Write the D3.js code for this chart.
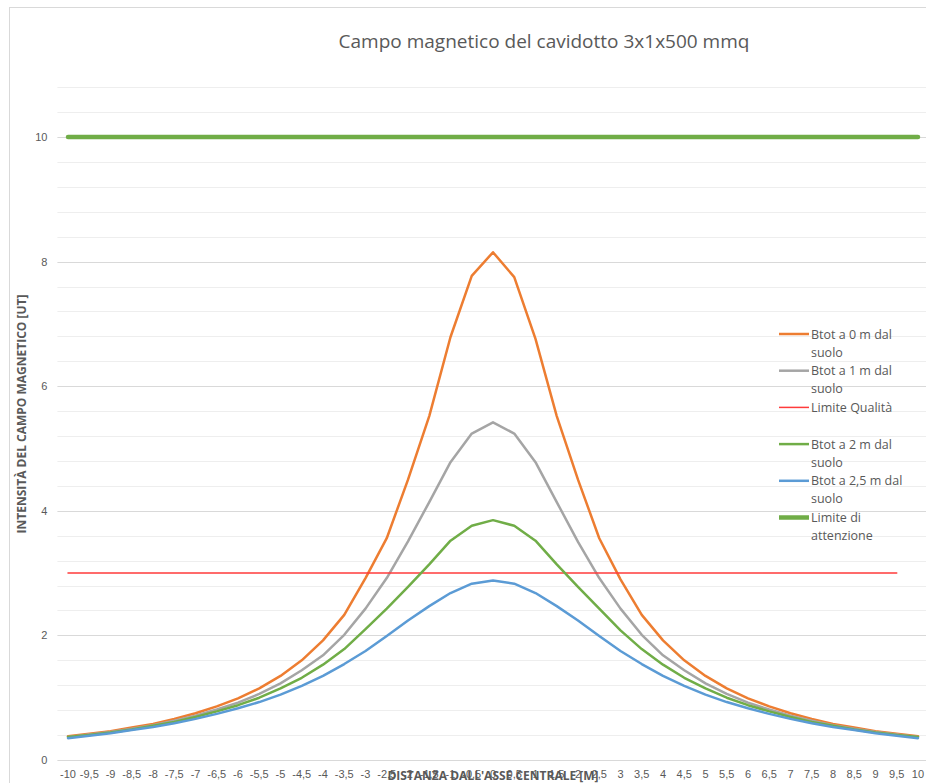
<!DOCTYPE html>
<html lang="it">
<head>
    <meta charset="UTF-8">
    <title>Campo magnetico del cavidotto</title>
    <style>
        body { margin: 0; background: #fff; overflow: hidden; }
        svg { display: block; font-family: "Liberation Sans Narrow", "Open Sans", sans-serif; }
        .tick-label { fill: #595959; font-size: 11px; }
        .axis-title { fill: #595959; font-size: 12px; font-weight: bold; }
        .legend-label { fill: #595959; font-size: 12.5px; }
    </style>
</head>
<body>
    <svg id="chart"></svg>
    <script src="https://d3js.org/d3.v7.min.js"></script>
    <script>
        const width = 926, height = 783;

        // categorie asse x (distanza in m)
        const categories = ["-10","-9,5","-9","-8,5","-8","-7,5","-7","-6,5","-6","-5,5","-5","-4,5","-4","-3,5","-3","-2,5","-2","-1,5","-1","-0,5","0",
            "0,5","1","1,5","2","2,5","3","3,5","4","4,5","5","5,5","6","6,5","7","7,5","8","8,5","9","9,5","10"];

        // valori [uT]
        const btot0 = [0.38,0.42,0.46,0.52,0.58,0.66,0.75,0.86,0.99,1.15,1.35,1.60,1.92,2.33,2.92,3.56,4.50,5.52,6.79,7.77,8.15,
            7.75,6.76,5.52,4.50,3.56,2.90,2.33,1.92,1.60,1.35,1.15,0.99,0.86,0.75,0.66,0.58,0.52,0.46,0.42,0.38];
        const btot1 = [0.37,0.41,0.45,0.50,0.56,0.63,0.71,0.81,0.92,1.06,1.23,1.44,1.68,2.01,2.43,2.92,3.51,4.14,4.78,5.24,5.42,
            5.24,4.78,4.14,3.50,2.92,2.43,2.01,1.68,1.44,1.23,1.06,0.92,0.81,0.71,0.63,0.56,0.50,0.45,0.41,0.37];
        const limiteQualita = [3,3,3,3,3,3,3,3,3,3,3,3,3,3,3,3,3,3,3,3,3,
            3,3,3,3,3,3,3,3,3,3,3,3,3,3,3,3,3,3,3];
        const btot2 = [0.37,0.40,0.44,0.49,0.55,0.61,0.69,0.78,0.88,1.00,1.15,1.32,1.53,1.78,2.10,2.43,2.78,3.14,3.52,3.76,3.85,
            3.76,3.52,3.14,2.78,2.43,2.08,1.78,1.53,1.32,1.15,1.00,0.88,0.78,0.69,0.61,0.55,0.49,0.44,0.40,0.37];
        const btot25 = [0.35,0.39,0.43,0.48,0.53,0.59,0.66,0.74,0.83,0.93,1.05,1.19,1.35,1.54,1.75,1.99,2.24,2.47,2.68,2.83,2.88,
            2.83,2.68,2.47,2.24,1.99,1.75,1.54,1.35,1.19,1.05,0.93,0.83,0.74,0.66,0.59,0.53,0.48,0.43,0.39,0.35];
        const limiteAttenzione = [10,10,10,10,10,10,10,10,10,10,10,10,10,10,10,10,10,10,10,10,10,
            10,10,10,10,10,10,10,10,10,10,10,10,10,10,10,10,10,10,10,10];

        const yTicks = [0, 2, 4, 6, 8, 10];

        const series = [
            { label: ["Btot a 0 m dal", "suolo"], values: btot0, color: "#ED7D31", w: 2.5 },
            { label: ["Btot a 1 m dal", "suolo"], values: btot1, color: "#A5A5A5", w: 2.5 },
            { label: ["Limite Qualità"], values: limiteQualita, color: "#FF3B3B", w: 1.5 },
            { label: ["Btot a 2 m dal", "suolo"], values: btot2, color: "#70AD47", w: 2.5 },
            { label: ["Btot a 2,5 m dal", "suolo"], values: btot25, color: "#5B9BD5", w: 2.5 },
            { label: ["Limite di", "attenzione"], values: limiteAttenzione, color: "#70AD47", w: 4.5 }
        ];

        const plot = { left: 57.4, right: 928.6, top: 74.7, bottom: 760 };

        const svg = d3.select("#chart").attr("width", width).attr("height", height);

        // bordo del grafico
        svg.append("rect")
            .attr("x", 9.5).attr("y", 7.5)
            .attr("width", 940).attr("height", 800)
            .attr("fill", "none").attr("stroke", "#d9d9d9");

        const x = d3.scaleBand().domain(categories).range([plot.left, plot.right]).padding(0);
        const xc = c => x(c) + x.bandwidth() / 2;
        const y = d3.scaleLinear().domain([0, 11]).range([plot.bottom, plot.top]);

        // griglia secondaria ogni 0,4
        const minor = d3.range(1, 28).map(i => +(i * 0.4).toFixed(1)).filter(v => v % 2 !== 0 && v <= 11);
        svg.append("g").selectAll("line").data(minor).join("line")
            .attr("x1", plot.left).attr("x2", plot.right)
            .attr("y1", d => Math.round(y(d)) + 0.5).attr("y2", d => Math.round(y(d)) + 0.5)
            .attr("stroke", "#eeeeee").attr("stroke-width", 1);

        // griglia principale + etichette asse y
        const yAxis = d3.axisLeft(y).tickValues(yTicks).tickSize(0).tickPadding(10);
        const gy = svg.append("g").attr("transform", `translate(${plot.left},0)`).call(yAxis);
        gy.select(".domain").remove();
        gy.selectAll(".tick text").attr("class", "tick-label").attr("font-size", null).attr("font-family", null);
        svg.append("g").selectAll("line").data(yTicks).join("line")
            .attr("x1", plot.left).attr("x2", plot.right)
            .attr("y1", d => Math.round(y(d)) + 0.5).attr("y2", d => Math.round(y(d)) + 0.5)
            .attr("stroke", "#d9d9d9").attr("stroke-width", 1);

        // etichette asse x
        const xAxis = d3.axisBottom(x).tickSize(0).tickPadding(10);
        const gx = svg.append("g").attr("transform", `translate(0,${plot.bottom})`).call(xAxis);
        gx.select(".domain").remove();
        gx.selectAll(".tick text").attr("class", "tick-label").attr("font-size", null).attr("font-family", null);

        // serie
        const line = d3.line()
            .defined(d => d != null)
            .x((d, i) => xc(categories[i]))
            .y(d => y(d));

        svg.append("g").selectAll("path").data(series).join("path")
            .attr("d", s => line(s.values))
            .attr("fill", "none")
            .attr("stroke", s => s.color)
            .attr("stroke-width", s => s.w)
            .attr("stroke-linejoin", "round")
            .attr("stroke-linecap", "round");

        // titoli
        svg.append("text")
            .attr("x", 544).attr("y", 48)
            .attr("text-anchor", "middle")
            .attr("fill", "#595959")
            .style("font-size", "19px")
            .text("Campo magnetico del cavidotto 3x1x500 mmq");

        svg.append("text")
            .attr("class", "axis-title")
            .attr("x", 493).attr("y", 780)
            .attr("text-anchor", "middle")
            .text("DISTANZA DALL'ASSE CENTRALE [M]");

        svg.append("text")
            .attr("class", "axis-title")
            .attr("transform", "translate(26,414) rotate(-90)")
            .attr("text-anchor", "middle")
            .text("INTENSITÀ DEL CAMPO MAGNETICO [UT]");

        // legenda
        const legend = svg.append("g").selectAll("g").data(series).join("g")
            .attr("transform", (d, i) => `translate(779,${334 + i * 36.7})`);
        legend.append("line")
            .attr("x1", 0).attr("x2", 30)
            .attr("stroke", d => d.color)
            .attr("stroke-width", d => d.w);
        legend.append("text")
            .attr("class", "legend-label")
            .attr("x", 32).attr("y", 4.5)
            .selectAll("tspan").data(d => d.label).join("tspan")
            .attr("x", 32).attr("dy", (d, i) => i === 0 ? 0 : 18)
            .text(d => d);
    </script>
</body>
</html>
